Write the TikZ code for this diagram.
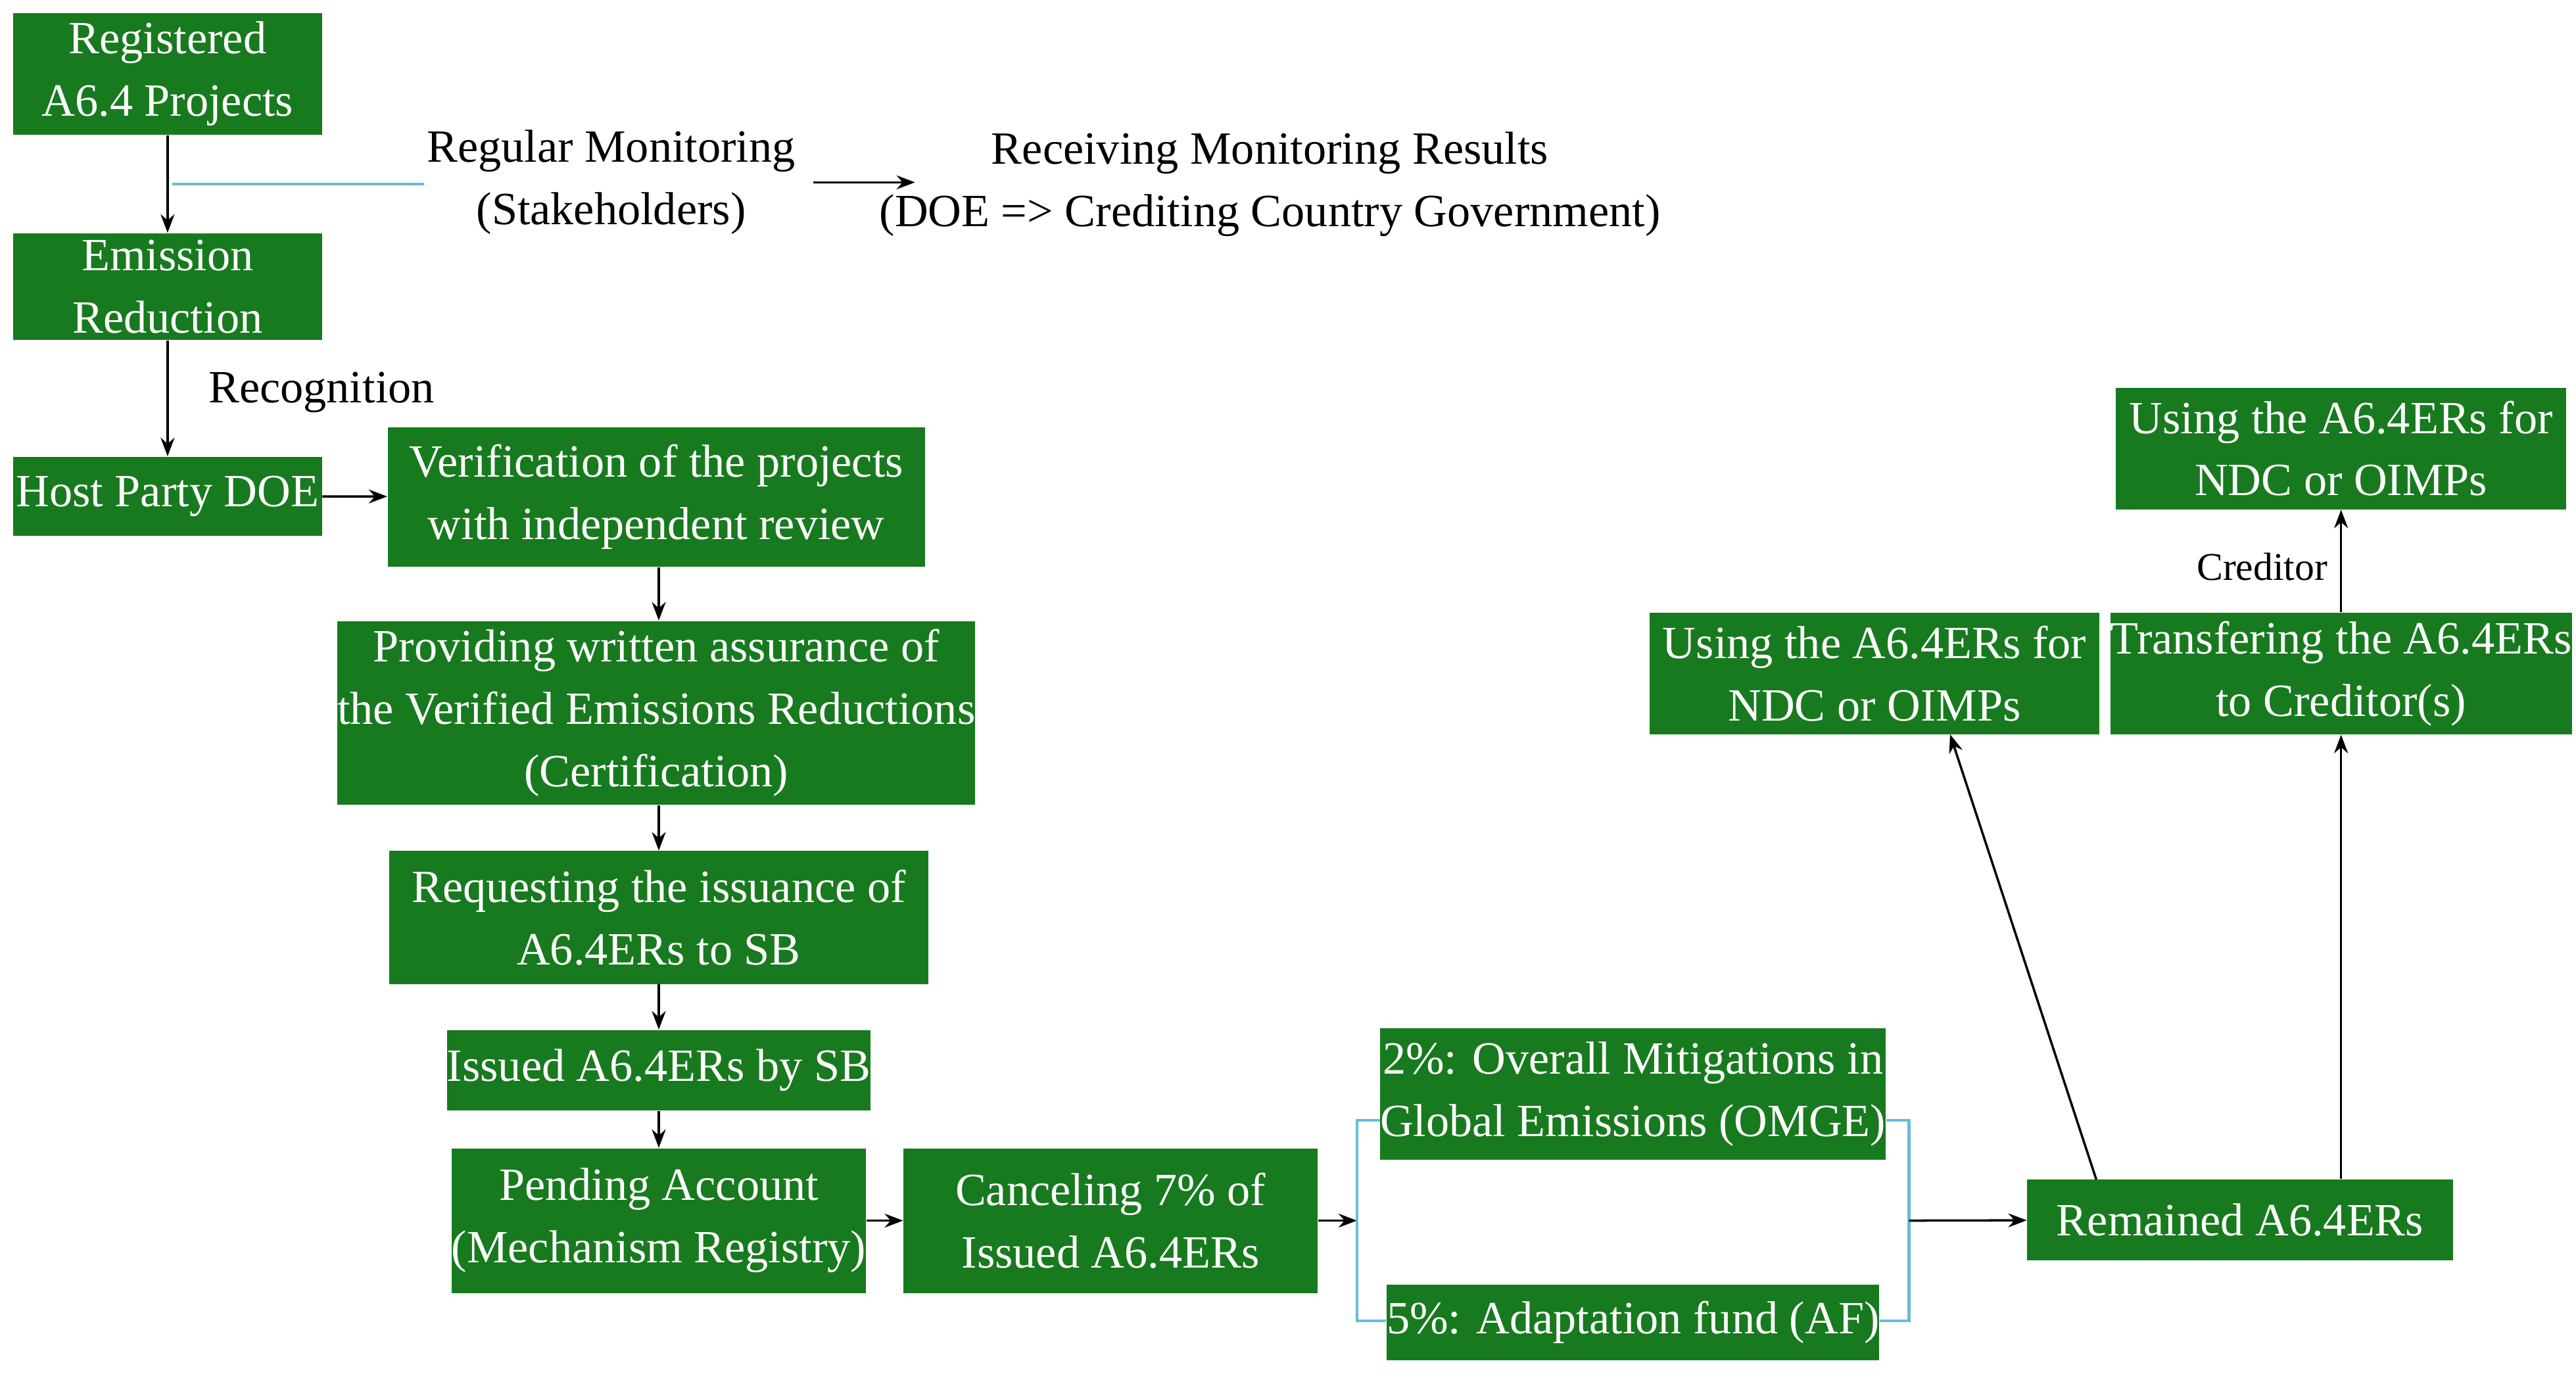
\documentclass[tikz,border=0pt]{standalone}
\usepackage{fontspec}
\setmainfont{Liberation Serif}
\usetikzlibrary{arrows.meta}
\definecolor{gbox}{RGB}{24,122,30}
\definecolor{cyn}{RGB}{100,190,215}
\begin{document}
\begin{tikzpicture}[x=0.025cm,y=-0.025cm,
  box/.style={fill=gbox,draw=none,text=white,align=center,inner sep=0pt,font=\fontsize{20}{27}\selectfont},
  lab/.style={align=center,font=\fontsize{20}{27}\selectfont},
  arr/.style={-{Stealth[length=8pt,width=6pt]},line width=1pt},
  br/.style={cyn,line width=1.2pt}]
\useasboundingbox (0,0) rectangle (1568,840);
\node[box,minimum width=188*0.025cm,minimum height=74*0.025cm] (reg) at (102,45) {Registered\\A6.4 Projects};
\node[box,minimum width=188*0.025cm,minimum height=65*0.025cm] (er) at (102,174.5) {Emission\\Reduction};
\node[box,minimum width=188*0.025cm,minimum height=48*0.025cm] (host) at (102,302) {Host Party DOE};
\node[box,minimum width=327*0.025cm,minimum height=85*0.025cm] (verif) at (399.5,302.5) {Verification of the projects\\with independent review};
\node[box,minimum width=353*0.025cm,minimum height=112*0.025cm] (prov) at (399.5,434) {Providing written assurance of\\the Verified Emissions Reductions\\(Certification)};
\node[box,minimum width=328*0.025cm,minimum height=81*0.025cm] (req) at (401,558.5) {Requesting the issuance of\\A6.4ERs to SB};
\node[box,minimum width=252*0.025cm,minimum height=49*0.025cm] (iss) at (401,651.5) {Issued A6.4ERs by SB};
\node[box,minimum width=252*0.025cm,minimum height=88*0.025cm] (pend) at (401,743) {Pending Account\\(Mechanism Registry)};
\node[box,minimum width=252*0.025cm,minimum height=88*0.025cm] (canc) at (676,743) {Canceling 7\% of\\Issued A6.4ERs};
\node[box,minimum width=296*0.025cm,minimum height=80*0.025cm] (omge) at (994,666) {2\%: Overall Mitigations in\\Global Emissions (OMGE)};
\node[box,minimum width=296*0.025cm,minimum height=46*0.025cm] (af) at (994,805) {5\%: Adaptation fund (AF)};
\node[box,minimum width=259*0.025cm,minimum height=49*0.025cm] (rem) at (1363.5,742.5) {Remained A6.4ERs};
\node[box,minimum width=274*0.025cm,minimum height=74*0.025cm] (use1) at (1141,410) {Using the A6.4ERs for\\NDC or OIMPs};
\node[box,minimum width=274*0.025cm,minimum height=74*0.025cm] (tr) at (1425,410) {Transfering the A6.4ERs\\to Creditor(s)};
\node[box,minimum width=274*0.025cm,minimum height=74*0.025cm] (use2) at (1425,273) {Using the A6.4ERs for\\NDC or OIMPs};
\node[lab] (mon) at (372,111) {Regular Monitoring\\(Stakeholders)};
\node[lab] (rec) at (773,112) {Receiving Monitoring Results\\(DOE => Crediting Country Government)};
\node[lab,anchor=west] (recog) at (122,239) {Recognition};
\node[lab,font=\fontsize{17}{20}\selectfont] (cred) at (1377,345) {Creditor};
\coordinate (m1) at (105,112);
\coordinate (m2) at (258,112);
\coordinate (a1) at (495,111);
\coordinate (a2) at (557,111);
\draw[arr] (reg) -- (er);
\draw[arr] (er) -- (host);
\draw[br] (m1) -- (m2);
\draw[arr] (a1) -- (a2);
\draw[arr] (host) -- (verif);
\draw[arr] (verif.south -| iss) -- (prov.north -| iss);
\draw[arr] (prov.south -| iss) -- (req.north -| iss);
\draw[arr] (req.south -| iss) -- (iss);
\draw[arr] (iss) -- (pend);
\draw[arr] (pend) -- (canc);
\coordinate (bl) at (826,743);
\coordinate (brr) at (1162,743);
\draw[arr] (canc) -- (bl);
\draw[br] (omge.west |- 0,682) -- (826,682) -- (826,804) -- (af.west |- 0,804);
\draw[br] (omge.east |- 0,682) -- (1162,682) -- (1162,804) -- (af.east |- 0,804);
\draw[arr] (brr) -- (rem);
\draw[arr] (1276,718) -- (1187,447);
\draw[arr] (rem.north -| tr) -- (tr);
\draw[arr] (tr) -- (use2);
\end{tikzpicture}
\end{document}
